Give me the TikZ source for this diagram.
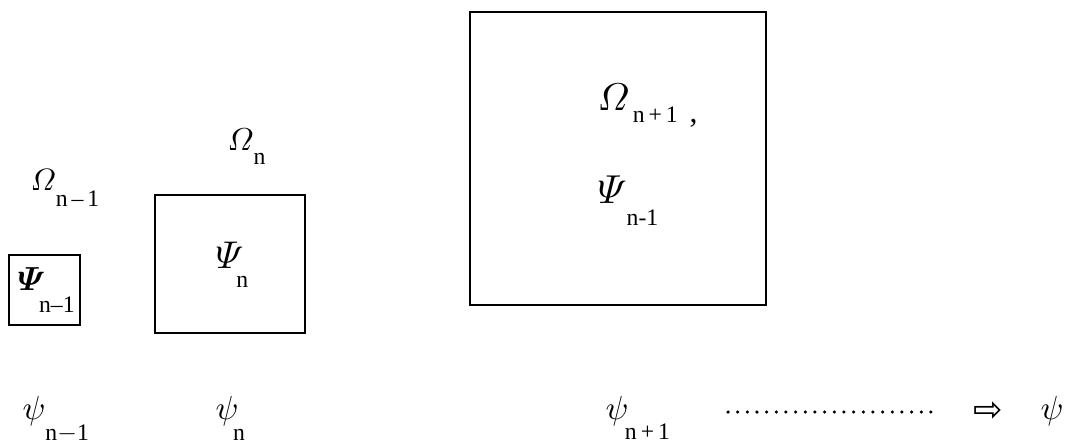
\documentclass[tikz,border=0pt]{standalone}
\usepackage{amsmath}
\usepackage{graphicx}
\usepackage{fontspec}
\newfontfamily\arrfont{DejaVu Sans}
\newfontfamily\subfont{Liberation Serif}
\usepackage{tikz}
\usetikzlibrary{positioning}

% symbol with a dropped, detached index
\newcommand{\Lab}[5][2.1]{\scalebox{#1}{$#2$}\hspace{#3}\raisebox{-#4}{\subfont\fontsize{13.5}{15}\selectfont #5}}

\begin{document}
\begin{tikzpicture}[x=0.02cm, y=-0.02cm, semithick,
    lab/.style={anchor=base west, inner sep=0pt},
    region/.style={draw, line width=0.7pt},
    dotline/.style={line width=2pt, line cap=round, dash pattern=on 0pt off 5.5pt}]
      \useasboundingbox (0,0) rectangle (1066,444);

      % the three regions
      \draw[region] (9,255) rectangle (80,325);
      \draw[region] (155,195) rectangle (305,333);
      \draw[region] (470,12) rectangle (766,305);

      % Omega labels
      \node[lab] (om1) at (30,190) {\Lab[1.75]{\varOmega}{0pt}{9.5pt}{n\,–\,1}};
      \node[lab] (om2) at (227,150) {\Lab[1.8]{\varOmega}{0pt}{8.5pt}{n}};
      \node[lab] (om3) at (597,110) {\Lab[2.2]{\varOmega}{2pt}{7pt}{n\,+\,1\ \ {\fontsize{18}{18}\selectfont,}}};

      % Psi labels inside the regions
      \node[lab] (ps1) at (17,290) {\Lab[1.9]{\boldsymbol{\varPsi}}{-3.5pt}{13pt}{n–1}};
      \node[lab] (ps2) at (215,268) {\Lab[2.2]{\varPsi}{-4pt}{11pt}{n}};
      \node[lab] (ps3) at (597,203) {\Lab[2.3]{\varPsi}{0pt}{13pt}{n-1}};

      % psi row
      \node[lab] (psi1) at (22,419) {\Lab[1.9]{\psi}{0pt}{12pt}{n$-$1}};
      \node[lab] (psi2) at (215,419) {\Lab[1.9]{\psi}{-3pt}{12pt}{n}};
      \node[lab] (psi3) at (605,419) {\Lab[1.9]{\psi}{-2pt}{11.5pt}{n\,+\,1}};
      \node[lab] (psi4) at (1040,419) {\scalebox{1.9}{$\psi$}};

      % limit arrow
      \coordinate (dotsA) at (728,412);
      \node[inner sep=0pt] (arr) at (988,412) {\arrfont\fontsize{20}{22}\selectfont ⇨};
      \draw[dotline, shorten >=0.76cm] (dotsA) -- (arr);
\end{tikzpicture}
\end{document}
